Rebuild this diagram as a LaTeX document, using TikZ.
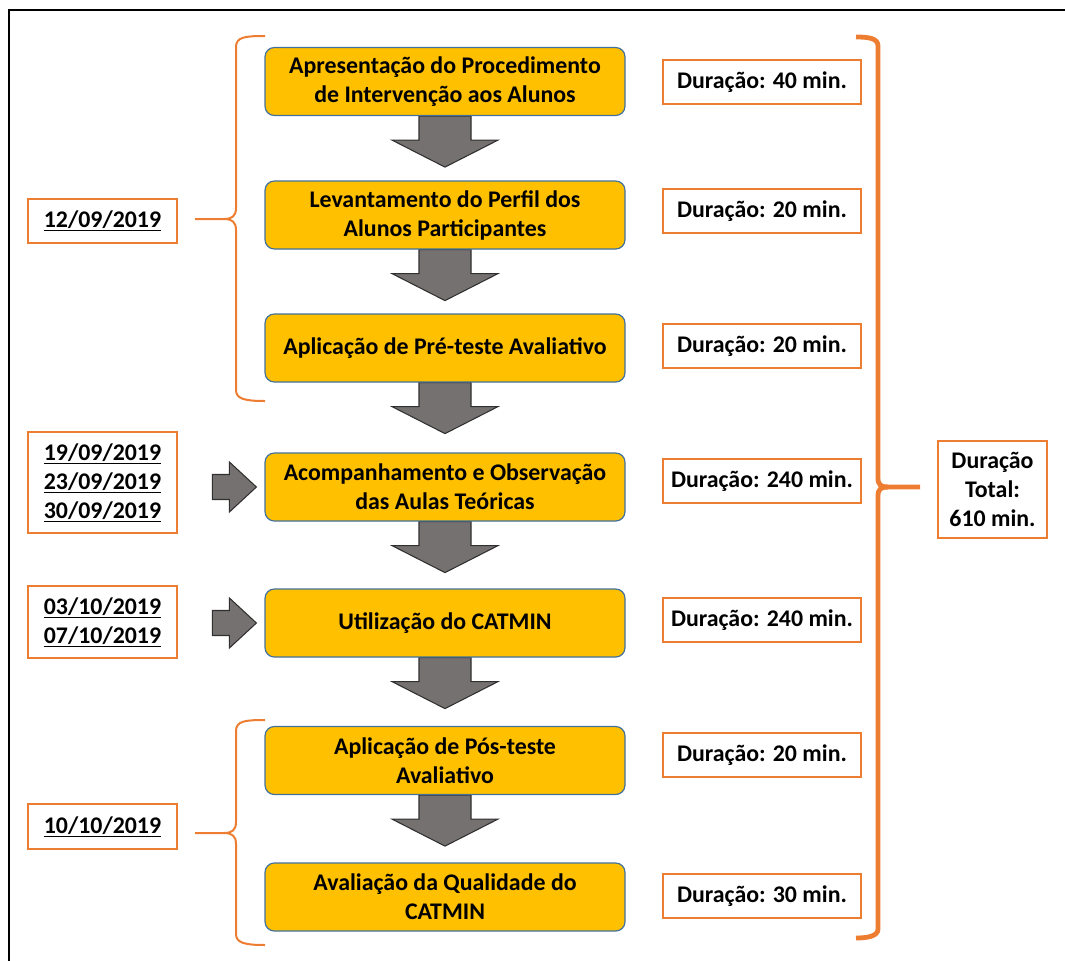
\documentclass[tikz,border=0pt]{standalone}
\usepackage{fontspec}
\setmainfont{Carlito}
\usetikzlibrary{calc,backgrounds}
\definecolor{gold}{HTML}{FFC000}
\definecolor{orng}{HTML}{ED7D31}
\definecolor{bblue}{HTML}{41719C}
\definecolor{agray}{HTML}{767171}
\definecolor{aline}{HTML}{303030}
\newcommand\txtfont{\fontsize{17.9}{21.75}\selectfont\bfseries}
\newcommand\downblock[1]{%
  \draw[blockarrow] ($(#1)+(-26,0)$) -- ++(52,0) -- ++(0,24) -- ++(27,0) -- ++(-53,27) -- ++(-53,-27) -- ++(27,0) -- cycle;}
\newcommand\rightblock[1]{%
  \draw[blockarrow] ($(#1)+(-52,-12.5)$) -- ++(17,0) -- ++(0,-12.5) -- ++(27,25) -- ++(-27,25) -- ++(0,-12.5) -- ++(-17,0) -- cycle;}
\begin{document}
\begin{tikzpicture}[x=0.75pt,y=-0.75pt,
  stepbox/.style={draw=bblue,line width=0.9pt,fill=gold,rounded corners=7pt,
    minimum width=270pt,minimum height=51pt,inner sep=0pt,align=center,font=\txtfont},
  durbox/.style={draw=orng,line width=1.1pt,fill=white,minimum width=148.5pt,
    minimum height=33pt,inner sep=0pt,align=center,font=\txtfont},
  datebox/.style={draw=orng,line width=1.1pt,fill=white,minimum width=111.75pt,
    inner sep=0pt,align=center,font=\txtfont},
  blockarrow/.style={fill=agray,draw=aline,line width=0.8pt,line join=miter},
  lbrace/.style={draw=orng,line width=1.5pt},
  rbrace/.style={draw=orng,line width=3.6pt}]
\useasboundingbox (0,0) rectangle (1065,961);
% frame
\draw[line width=1.8pt,line join=miter] (9,961) -- (9,10) -- (1065,10);

% main steps
\node[stepbox] (b1) at (445,81.5) {Apresentação do Procedimento\\de Intervenção aos Alunos};
\node[stepbox] (b2) at (445,215) {Levantamento do Perfil dos\\Alunos Participantes};
\node[stepbox] (b3) at (445,348) {Aplicação de Pré-teste Avaliativo};
\node[stepbox] (b4) at (445,487) {Acompanhamento e Observação\\das Aulas Teóricas};
\node[stepbox] (b5) at (445,623) {Utilização do CATMIN};
\node[stepbox] (b6) at (445,760.5) {Aplicação de Pós-teste\\Avaliativo};
\node[stepbox] (b7) at (445,897) {Avaliação da Qualidade do\\CATMIN};

% durations
\node[durbox] (d1) at (762,82) {Duração: 40 min.};
\node[durbox] (d2) at (762,211) {Duração: 20 min.};
\node[durbox] (d3) at (762,346) {Duração: 20 min.};
\node[durbox] (d4) at (762,481) {Duração: 240 min.};
\node[durbox] (d5) at (762,620) {Duração: 240 min.};
\node[durbox] (d6) at (762,755) {Duração: 20 min.};
\node[durbox] (d7) at (762,896) {Duração: 30 min.};

% total
\node[draw=orng,line width=1.1pt,fill=white,minimum width=81.75pt,minimum height=72.75pt,
  inner sep=0pt,align=center,font=\txtfont] (tot) at (992.5,489.5) {Duração\\Total:\\610 min.};

% dates
\node[datebox,minimum height=33pt] (t1) at (102.5,221) {\underline{12/09/2019}};
\node[datebox,minimum height=75.75pt] (t2) at (102.5,482.5) {\underline{19/09/2019}\\\underline{23/09/2019}\\\underline{30/09/2019}};
\node[datebox,minimum height=54pt] (t3) at (102.5,622) {\underline{03/10/2019}\\\underline{07/10/2019}};
\node[datebox,minimum height=33.75pt] (t4) at (102.5,826.5) {\underline{10/10/2019}};

% arrows
\begin{pgfonlayer}{background}
\downblock{b1.south}
\downblock{b2.south}
\downblock{b3.south}
\downblock{b4.south}
\downblock{b5.south}
\downblock{b6.south}
\end{pgfonlayer}
\rightblock{b4.west}
\rightblock{b5.west}

% braces
\coordinate (lt1) at (195,219);
\coordinate (lt2) at (195,833);
\coordinate (rt) at (920,487);
\draw[lbrace] (265,36) .. controls (245,36) and (236,37) .. (236,47) -- (236,208)
  .. controls (236,216) and (232,219) .. (224,219) -- (lt1);
\draw[lbrace] (224,219) .. controls (232,219) and (236,222) .. (236,230) -- (236,390)
  .. controls (236,399) and (245,401) .. (265,401);
\draw[lbrace] (265,720) .. controls (245,720) and (236,721) .. (236,731) -- (236,822)
  .. controls (236,830) and (232,833) .. (224,833) -- (lt2);
\draw[lbrace] (224,833) .. controls (232,833) and (236,836) .. (236,844) -- (236,934)
  .. controls (236,943) and (245,945) .. (265,945);
\draw[rbrace] (856,37) .. controls (868,37) and (878,38) .. (878,46) -- (878,478)
  .. controls (878,485) and (881,487) .. (888,487) -- (rt);
\draw[rbrace] (888,487) .. controls (881,487) and (878,489) .. (878,496) -- (878,929)
  .. controls (878,936) and (868,938) .. (856,938);
\end{tikzpicture}
\end{document}
